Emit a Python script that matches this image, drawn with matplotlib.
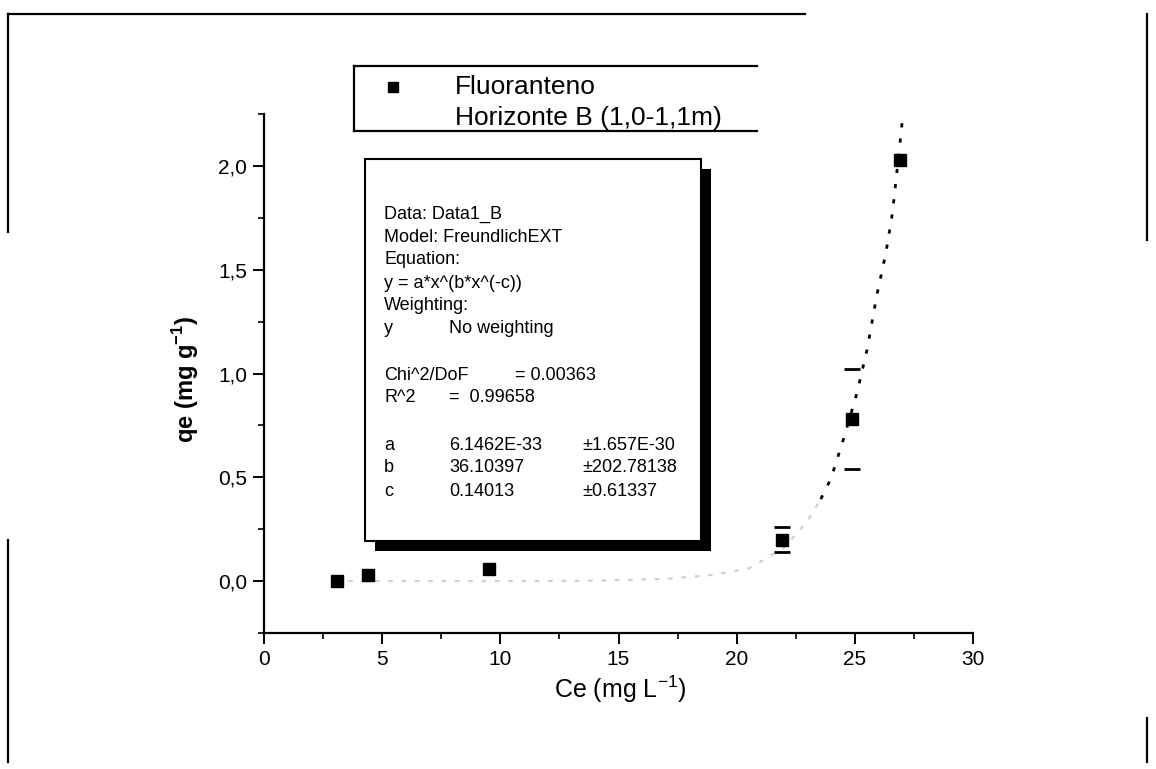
import numpy as np
import matplotlib.pyplot as plt
from matplotlib.lines import Line2D
from matplotlib.patches import Rectangle

plt.rcParams['font.family'] = ['Liberation Sans', 'DejaVu Sans']

# measured points (Ce in mg/L, qe in mg/g)
ce = [3.1, 4.4, 9.5, 21.9, 24.9, 26.9]
qe = [0.0, 0.03, 0.06, 0.20, 0.78, 2.03]
qe_err = [0.0, 0.0, 0.0, 0.06, 0.24, 0.0]

# fitted FreundlichEXT curve
fit_x = [3.0, 6.0, 10.0, 14.0, 17.0, 19.0, 20.5, 22.0, 23.0, 23.56, 23.99, 24.52,
         25.08, 25.51, 25.93, 26.31, 26.59, 26.91, 27.03]
fit_y = [0.0, 0.0, 0.0, 0.002, 0.01, 0.03, 0.06, 0.16, 0.29, 0.395, 0.494, 0.684,
         0.902, 1.111, 1.377, 1.578, 1.771, 2.110, 2.24]

legend_lines = ["Fluoranteno", "Horizonte B (1,0-1,1m)"]
info_lines = ["Data: Data1_B", "Model: FreundlichEXT", "Equation:",
              "y = a*x^(b*x^(-c))", "Weighting:"]
param_names = ["a", "b", "c"]
param_values = ["6.1462E-33", "36.10397", "0.14013"]
param_errors = ["\u00b11.657E-30", "\u00b1202.78138", "\u00b10.61337"]

W, H = 1156, 769
fig = plt.figure(figsize=(W / 100, H / 100), dpi=100)


def fx(x):
    return x / W


def fy(y):
    return 1 - y / H


ax = fig.add_axes([fx(264), fy(633), fx(973) - fx(264), fy(114) - fy(633)])
ax.set_xlim(0, 30)
ax.set_ylim(-0.25, 2.25)
ax.spines['top'].set_visible(False)
ax.spines['right'].set_visible(False)
for s in ['left', 'bottom']:
    ax.spines[s].set_linewidth(1.6)

ax.set_xticks(np.arange(0, 31, 5))
ax.set_xticks(np.arange(0, 31, 2.5), minor=True)
ax.set_yticks(np.arange(0, 2.01, 0.5))
ax.set_yticks(np.arange(-0.25, 2.26, 0.25), minor=True)
ax.set_yticklabels([f"{v:.1f}".replace(".", ",") for v in np.arange(0, 2.01, 0.5)])
ax.tick_params(which='major', direction='out', length=8, width=1.4, labelsize=15, pad=4)
ax.tick_params(which='minor', direction='out', length=4, width=1.2)

fig.text(fx(620), fy(689), "Ce (mg L$^{\\mathregular{-1}}$)", fontsize=18,
         ha='center', va='center')
fig.text(fx(186), fy(380), "qe (mg g$^{\\mathregular{-1}}$)", fontsize=17,
         fontweight='bold', rotation=90, ha='center', va='center')

# fit curve: faint where it hugs zero, dark on the rising branch
split = 9
ax.plot(fit_x[:split + 1], fit_y[:split + 1], ls=(0, (2, 4)), color='#cfcfcf', lw=1.6)
ax.plot(fit_x[split:], fit_y[split:], ls=(0, (1.5, 4)), color='black', lw=2.0)

ax.plot(ce, qe, 's', color='black', ms=8)
err_x = [x for x, e in zip(ce, qe_err) if e > 0]
err_y = [y for y, e in zip(qe, qe_err) if e > 0]
err_e = [e for e in qe_err if e > 0]
ax.errorbar(err_x, err_y, yerr=err_e, fmt='none', ecolor='black', elinewidth=0,
            capsize=6, capthick=2)

# outer frame pieces
frame = [((8, 14), (805, 14)), ((8, 14), (8, 232)), ((8, 540), (8, 762)),
         ((1147, 14), (1147, 240)), ((1147, 718), (1147, 762))]
for (x0, y0), (x1, y1) in frame:
    fig.add_artist(Line2D([fx(x0), fx(x1)], [fy(y0), fy(y1)], color='black', lw=1.6))

# legend box (open on the right)
for (x0, y0), (x1, y1) in [((354, 66), (757, 66)), ((354, 131), (757, 131)),
                           ((354, 66), (354, 131))]:
    fig.add_artist(Line2D([fx(x0), fx(x1)], [fy(y0), fy(y1)], color='black', lw=1.6))
fig.add_artist(Line2D([fx(393)], [fy(87)], marker='s', ms=7, color='black'))
fig.text(fx(455), fy(87), legend_lines[0], fontsize=19, va='center')
fig.text(fx(455), fy(118), legend_lines[1], fontsize=19, va='center')

# fit statistics box with drop shadow
fig.add_artist(Rectangle((fx(375), fy(551)), fx(711) - fx(375), fy(169) - fy(551),
                         transform=fig.transFigure, facecolor='black', edgecolor='none',
                         zorder=5))
fig.add_artist(Rectangle((fx(365), fy(541)), fx(701) - fx(365), fy(159) - fy(541),
                         transform=fig.transFigure, facecolor='white', edgecolor='black',
                         lw=1.5, zorder=6))

fs = 13
row = 23
y0 = 214
for i, line in enumerate(info_lines):
    fig.text(fx(384), fy(y0 + i * row), line, fontsize=fs, va='center', zorder=7)
fig.text(fx(384), fy(y0 + 5 * row), "y", fontsize=fs, va='center', zorder=7)
fig.text(fx(449), fy(y0 + 5 * row), "No weighting", fontsize=fs, va='center', zorder=7)
fig.text(fx(384), fy(376), "Chi^2/DoF", fontsize=fs, va='center', zorder=7)
fig.text(fx(515), fy(376), "= 0.00363", fontsize=fs, va='center', zorder=7)
fig.text(fx(384), fy(398), "R^2", fontsize=fs, va='center', zorder=7)
fig.text(fx(449), fy(398), "=  0.99658", fontsize=fs, va='center', zorder=7)
for i, (n, v, e) in enumerate(zip(param_names, param_values, param_errors)):
    yy = fy(445 + i * row)
    fig.text(fx(384), yy, n, fontsize=fs, va='center', zorder=7)
    fig.text(fx(449), yy, v, fontsize=fs, va='center', zorder=7)
    fig.text(fx(582), yy, e, fontsize=fs, va='center', zorder=7)

fig.savefig("out.png", dpi=100, facecolor='white')
